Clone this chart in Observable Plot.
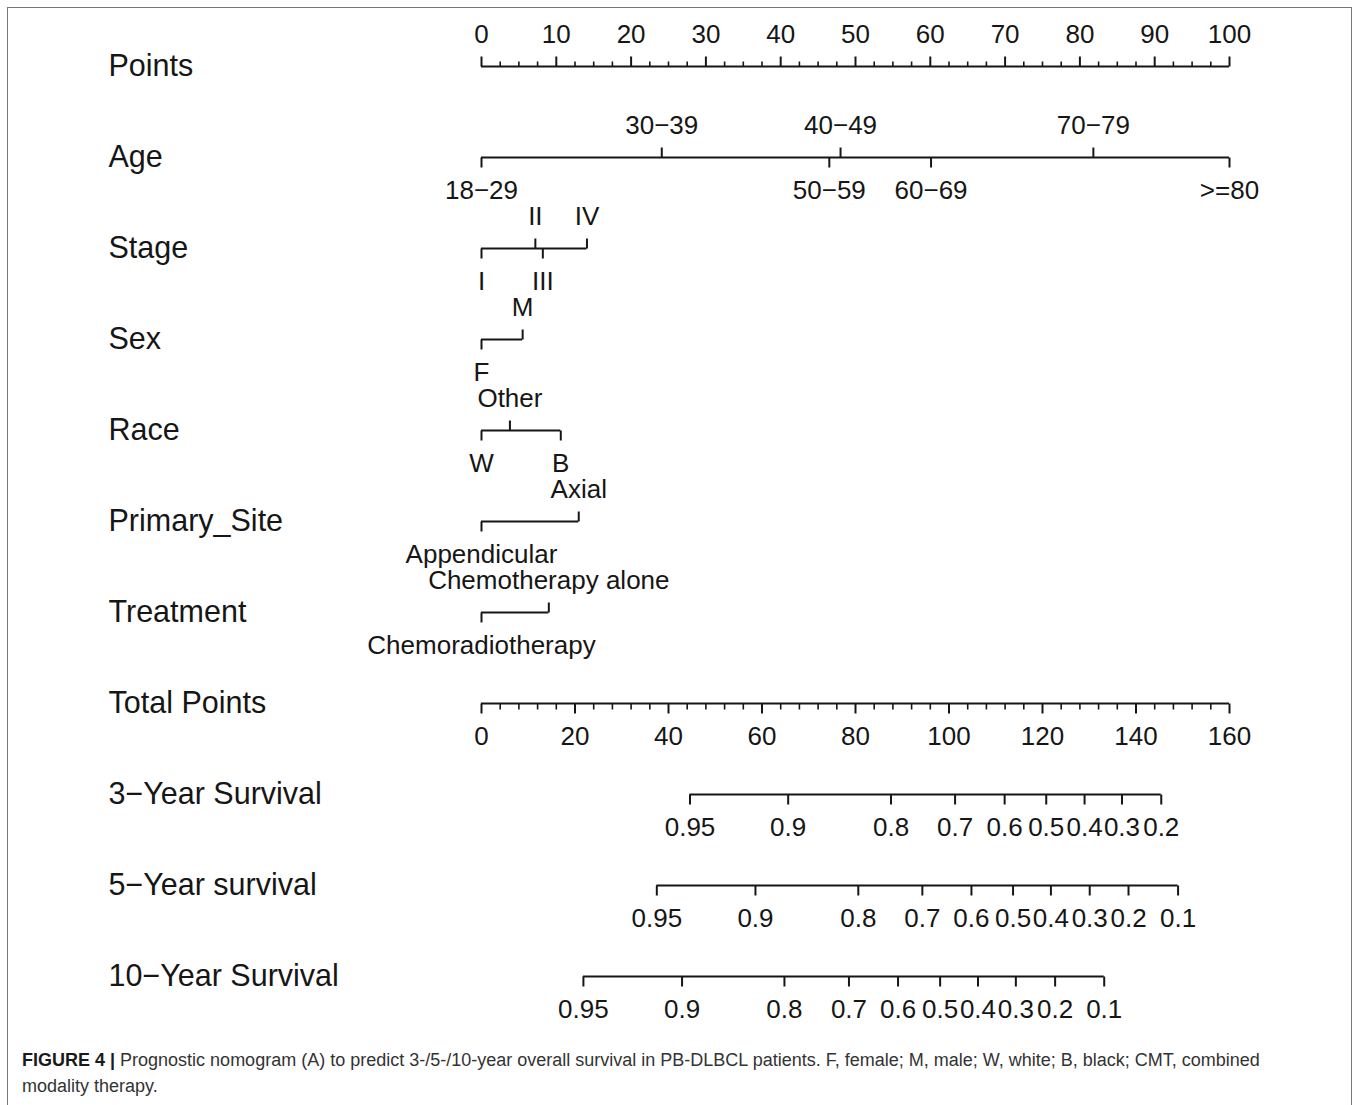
<!DOCTYPE html>
<html>
<head>
<meta charset="utf-8">
<script src="https://cdn.jsdelivr.net/npm/d3@7"></script>
<script src="https://cdn.jsdelivr.net/npm/@observablehq/plot@0.6"></script>
<style>
  html, body { margin: 0; padding: 0; background: #fff; overflow: hidden; }
  #chart { position: absolute; left: 0; top: 0; }
  #frame { position: absolute; left: 7px; top: 7px; width: 1345px; height: 1200px;
           border: 1.5px solid #777; box-sizing: border-box; pointer-events: none; }
  #caption { position: absolute; left: 22px; top: 1047px; font-family: "Liberation Sans", Arial, sans-serif;
             font-size: 18px; line-height: 26px; color: #333; white-space: nowrap; }
  #caption b { color: #1a1a1a; }
</style>
</head>
<body>
<div id="chart"></div>
<div id="frame"></div>
<div id="caption"><b>FIGURE 4 |</b> Prognostic nomogram (A) to predict 3-/5-/10-year overall survival in PB-DLBCL patients. F, female; M, male; W, white; B, black; CMT, combined<br>modality therapy.</div>
<script>
// ---------- data ----------
const rowLabels = ["Points", "Age", "Stage", "Sex", "Race", "Primary_Site", "Treatment",
  "Total Points", "3−Year Survival", "5−Year survival", "10−Year Survival"];

const pointsMax = 100;
const totalMax = 160;
const pointsTickLabels = [0, 10, 20, 30, 40, 50, 60, 70, 80, 90, 100];
const totalTickLabels = [0, 20, 40, 60, 80, 100, 120, 140, 160];

const ageLevels = ["18−29", "30−39", "40−49", "50−59", "60−69", "70−79", ">=80"];
const agePoints = [0, 24.1, 48.0, 46.5, 60.1, 81.8, 100];

const stageLevels = ["I", "II", "III", "IV"];
const stagePoints = [0, 7.2, 8.2, 14.1];

const sexLevels = ["F", "M"];
const sexPoints = [0, 5.5];

const raceLevels = ["W", "B", "Other"];
const racePoints = [0, 10.6, 3.8];

const siteLevels = ["Appendicular", "Axial"];
const sitePoints = [0, 13.0];

const treatmentLevels = ["Chemoradiotherapy", "Chemotherapy alone"];
const treatmentPoints = [0, 9.0];

// survival probabilities and the total points at which they sit
const surv3Labels = ["0.95", "0.9", "0.8", "0.7", "0.6", "0.5", "0.4", "0.3", "0.2"];
const surv3Total = [44.6, 65.6, 87.6, 101.3, 111.9, 120.8, 129.0, 137.0, 145.4];

const surv5Labels = ["0.95", "0.9", "0.8", "0.7", "0.6", "0.5", "0.4", "0.3", "0.2", "0.1"];
const surv5Total = [37.5, 58.6, 80.6, 94.3, 104.8, 113.7, 121.8, 130.1, 138.4, 149.0];

const surv10Labels = ["0.95", "0.9", "0.8", "0.7", "0.6", "0.5", "0.4", "0.3", "0.2", "0.1"];
const surv10Total = [21.8, 42.9, 64.8, 78.6, 89.1, 98.1, 106.2, 114.3, 122.7, 133.2];

// ---------- build tables ----------
const toPts = tp => tp * pointsMax / totalMax;

const variables = [
  {row: "Age", levels: ageLevels, points: agePoints},
  {row: "Stage", levels: stageLevels, points: stagePoints},
  {row: "Sex", levels: sexLevels, points: sexPoints},
  {row: "Race", levels: raceLevels, points: racePoints},
  {row: "Primary_Site", levels: siteLevels, points: sitePoints},
  {row: "Treatment", levels: treatmentLevels, points: treatmentPoints}
];

const varItems = variables.flatMap(v => {
  const arr = v.levels.map((l, i) => ({row: v.row, label: l, x: v.points[i]}));
  arr.slice().sort((a, b) => a.x - b.x).forEach((d, i) => { d.up = i % 2 === 1; });
  return arr;
});

const survRows = [
  {row: "3−Year Survival", labels: surv3Labels, total: surv3Total},
  {row: "5−Year survival", labels: surv5Labels, total: surv5Total},
  {row: "10−Year Survival", labels: surv10Labels, total: surv10Total}
];
const survItems = survRows.flatMap(s => s.labels.map((l, i) => ({row: s.row, label: l, x: toPts(s.total[i]), up: false})));

const pointsItems = pointsTickLabels.map(v => ({row: "Points", label: String(v), x: v, up: true}));
const totalItems = totalTickLabels.map(v => ({row: "Total Points", label: String(v), x: toPts(v), up: false}));

const pointsMinor = d3.range(0, pointsMax + 0.001, 2.5).filter(v => !pointsTickLabels.includes(v))
  .map(v => ({row: "Points", x: v, up: true}));
const totalMinor = d3.range(0, totalMax + 0.001, 4).filter(v => !totalTickLabels.includes(v))
  .map(v => ({row: "Total Points", x: toPts(v), up: false}));

const majorItems = [...pointsItems, ...varItems, ...totalItems, ...survItems];

const spans = [
  {row: "Points", x1: 0, x2: pointsMax},
  ...variables.map(v => ({row: v.row, x1: d3.min(v.points), x2: d3.max(v.points)})),
  {row: "Total Points", x1: 0, x2: toPts(totalMax)},
  ...survRows.map(s => ({row: s.row, x1: toPts(d3.min(s.total)), x2: toPts(d3.max(s.total))}))
];

// ---------- chart ----------
const ink = "#161616";
const line = {draw(context, l) { context.moveTo(0, 0); context.lineTo(0, -l); }};

const chart = Plot.plot({
  width: 1357,
  height: 1040,
  marginLeft: 481,
  marginRight: 128,
  marginTop: 62,
  marginBottom: 61,
  style: {fontFamily: "'Liberation Sans', Arial, sans-serif", background: "transparent", color: ink},
  x: {domain: [0, pointsMax], axis: null},
  y: {type: "point", domain: rowLabels, padding: 0, axis: null},
  marks: [
    Plot.ruleY(spans, {y: "row", x1: "x1", x2: "x2", stroke: ink, strokeWidth: 2}),
    Plot.vector(majorItems, {x: "x", y: "row", length: 10, rotate: d => d.up ? 0 : 180,
      anchor: "start", shape: line, stroke: ink, strokeWidth: 2, strokeLinecap: "butt"}),
    Plot.vector(pointsMinor, {x: "x", y: "row", length: 5, rotate: 0,
      anchor: "start", shape: line, stroke: ink, strokeWidth: 1.6, strokeLinecap: "butt"}),
    Plot.vector(totalMinor, {x: "x", y: "row", length: 6, rotate: 180,
      anchor: "start", shape: line, stroke: ink, strokeWidth: 1.6, strokeLinecap: "butt"}),
    Plot.text(majorItems.filter(d => d.up), {x: "x", y: "row", text: "label", dy: -32,
      fontSize: 26, fill: ink}),
    Plot.text(majorItems.filter(d => !d.up), {x: "x", y: "row", text: "label", dy: 33,
      fontSize: 26, fill: ink}),
    Plot.text(rowLabels, {y: d => d, text: d => d, frameAnchor: "left", textAnchor: "start",
      dx: -373, fontSize: 30.5, fill: ink})
  ]
});
document.getElementById("chart").appendChild(chart);
</script>
</body>
</html>
